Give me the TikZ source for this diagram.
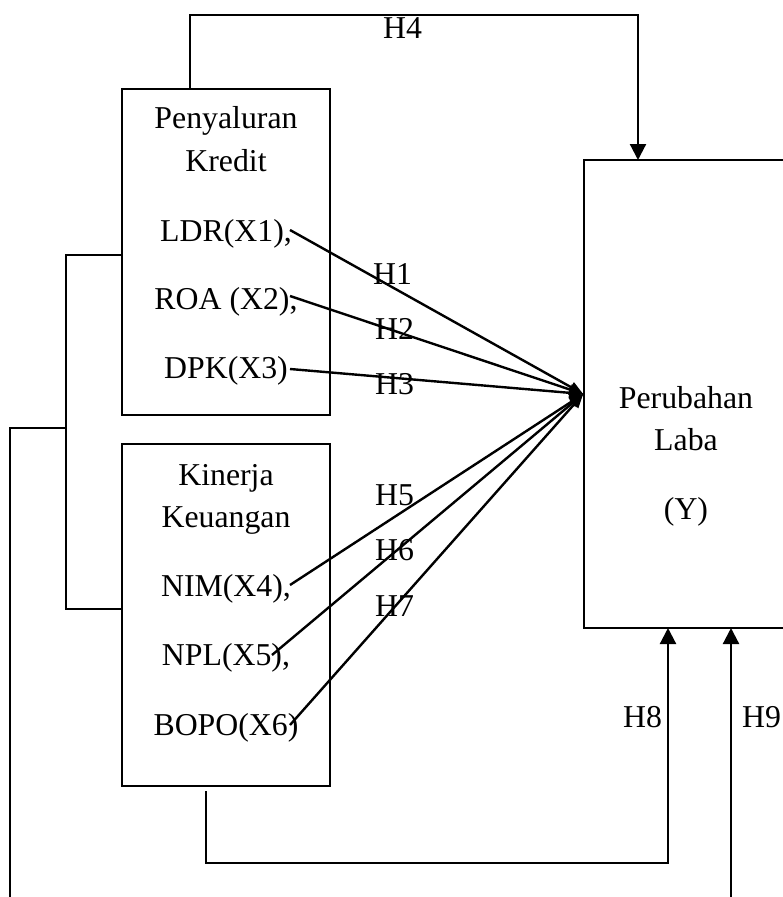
\documentclass[tikz,border=0pt]{standalone}
\usepackage{fontspec}
\setmainfont{Liberation Serif}
\usetikzlibrary{arrows.meta}
\begin{document}
\begin{tikzpicture}[x=1pt,y=-1pt,
  txt/.style={font=\fontsize{31.8}{42}\selectfont, inner sep=0pt, anchor=base},
  lbl/.style={font=\fontsize{31.8}{42}\selectfont, inner sep=0pt, anchor=base west},
  box/.style={draw, line width=1.5pt, inner sep=0pt},
  brk/.style={line width=1.5pt},
  arr/.style={line width=2.2pt, -{Triangle[width=16pt,length=16pt]}},
  farr/.style={line width=2.4pt, -{Triangle[width=11pt,length=14pt]}}]
\useasboundingbox (0,0) rectangle (783,897);
\clip (0,0) rectangle (783,897);
\fill[white] (0,0) rectangle (783,897);

% boxes
\node[box, minimum width=208pt, minimum height=326pt] (boxA) at (226,252) {};
\node[box, minimum width=208pt, minimum height=342pt] (boxB) at (226,615) {};
\node[box, minimum width=316pt, minimum height=468pt] (laba) at (742,394) {};

% texts in box A
\node[txt] (tpeny) at (226,128) {Penyaluran};
\node[txt] (tkred) at (226,171) {Kredit};
\node[txt] (tldr) at (226,241) {LDR(X1),};
\node[txt] (troa) at (226,309) {ROA (X2),};
\node[txt] (tdpk) at (226,378) {DPK(X3)};
% texts in box B
\node[txt] (tkin) at (226,485) {Kinerja};
\node[txt] (tkeu) at (226,527) {Keuangan};
\node[txt] (tnim) at (226,596) {NIM(X4),};
\node[txt] (tnpl) at (226,665) {NPL(X5),};
\node[txt] (tbopo) at (226,735) {BOPO(X6)};
% texts in right box
\node[txt] (tper) at (686,408) {Perubahan};
\node[txt] (tlab) at (686,450) {Laba};
\node[txt] (ty) at (686,519) {(Y)};

% connector end points
\coordinate (s1) at (290,230);
\coordinate (s2) at (290,296);
\coordinate (s3) at (290,369);
\coordinate (s5) at (290,585);
\coordinate (s6) at (272,655);
\coordinate (s7) at (290,725);

\draw[farr] (s1) -- (laba.west);
\draw[farr] (s2) -- (laba.west);
\draw[farr] (s3) -- (laba.west);
\draw[farr] (s5) -- (laba.west);
\draw[farr] (s6) -- (laba.west);
\draw[farr] (s7) -- (laba.west);

% H4
\coordinate (h4s) at (190,89);
\coordinate (toprail) at (400,15);
\coordinate (h4e) at (638,160);
\draw[arr] (h4s) |- (toprail) -| (h4e);

% H8
\coordinate (h8s) at (206,791);
\coordinate (botrail) at (400,863);
\coordinate (h8e) at (668,628);
\draw[arr] (h8s) |- (botrail) -| (h8e);

% H9
\coordinate (h9s) at (731,900);
\coordinate (h9e) at (731,628);
\draw[arr] (h9s) -- (h9e);

% bracket
\coordinate (b1) at (122,255);
\coordinate (b2) at (122,609);
\coordinate (bt) at (66,255);
\coordinate (bb) at (66,609);
\coordinate (bm) at (66,428);
\coordinate (bl) at (10,900);
\draw[brk] (b1) -- (bt) -- (bb) -- (b2);
\draw[brk] (bm) -| (bl);

% labels
\node[lbl] (H1) at (373,284) {H1};
\node[lbl] (H2) at (375,339) {H2};
\node[lbl] (H3) at (375,394) {H3};
\node[lbl] (H4) at (383,38) {H4};
\node[lbl] (H5) at (375,505) {H5};
\node[lbl] (H6) at (375,560) {H6};
\node[lbl] (H7) at (375,616) {H7};
\node[lbl] (H8) at (623,727) {H8};
\node[lbl] (H9) at (742,727) {H9};
\end{tikzpicture}
\end{document}
